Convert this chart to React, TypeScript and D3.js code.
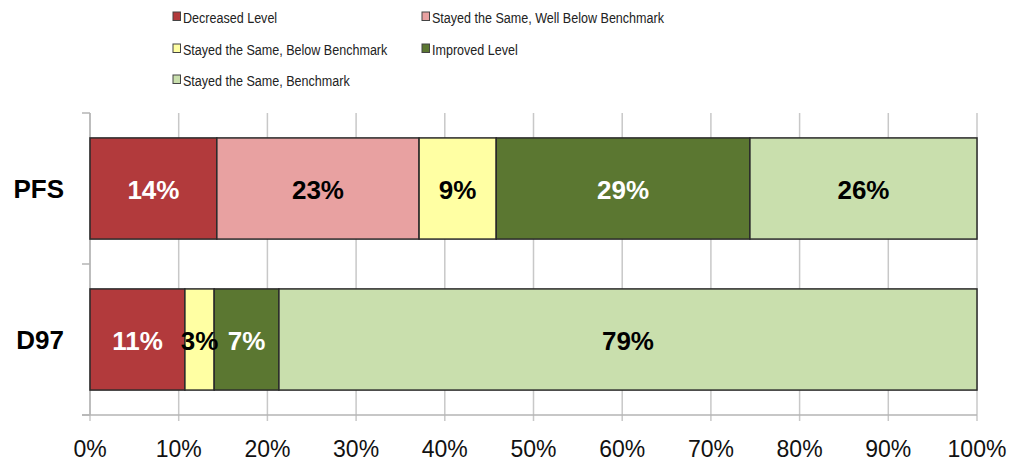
import React from "react";
import * as d3 from "d3";

const categories = ["PFS", "D97"];
const seriesNames = [
  "Decreased Level",
  "Stayed the Same, Well Below Benchmark",
  "Stayed the Same, Below Benchmark",
  "Improved Level",
  "Stayed the Same, Benchmark",
];
const seriesColors = ["#B23A3C", "#E8A1A1", "#FFFFA3", "#5B7731", "#C9DFAD"];
const labelColors = ["#fff", "#000", "#000", "#fff", "#000"];
const pfsValues = [14.3, 22.8, 8.7, 28.6, 25.6];
const d97Values = [10.7, 0, 3.3, 7.3, 78.7];
const labelsPFS = ["14%", "23%", "9%", "29%", "26%"];
const labelsD97 = ["11%", "", "3%", "7%", "79%"];
const ticks = [0, 10, 20, 30, 40, 50, 60, 70, 80, 90, 100];

const W = 1011, H = 463;
const left = 90, right = 977, top = 113, bottom = 415;

export default function App() {
  const x = d3.scaleLinear().domain([0, 100]).range([left, right]);
  const y = d3.scaleBand().domain(categories).range([top, bottom]).paddingInner(0.33).paddingOuter(0.165);
  const values = [pfsValues, d97Values];
  const labels = [labelsPFS, labelsD97];
  const stacks = values.map((vals) => {
    let acc = 0;
    return vals.map((v) => {
      const s = acc;
      acc += v;
      return [s, acc];
    });
  });
  const legendPos = [
    [173, 23], [422, 23], [173, 55], [422, 55], [173, 86],
  ];
  const font = "'Liberation Sans', Arial, Helvetica, sans-serif";
  return (
    <svg width={W} height={H} style={{ position: "absolute", left: 0, top: 0, background: "#fff" }}>
      {/* legend */}
      {seriesNames.map((n, i) => (
        <g key={n} transform={`translate(${legendPos[i][0]},${legendPos[i][1]})`}>
          <rect x={0} y={-11} width={7.5} height={8.5} fill={seriesColors[i]} stroke="#444" strokeWidth={1} />
          <g transform="translate(10,0) scale(0.81,1)">
            <text x={0} y={0} fontFamily={font} fontSize={15.5} fill="#222">
              {n}
            </text>
          </g>
        </g>
      ))}
      {/* gridlines */}
      {ticks.map((t) => (
        <line key={t} x1={x(t)} x2={x(t)} y1={top} y2={bottom + 6} stroke="#c8c8c8" strokeWidth={1.5} />
      ))}
      {/* axes */}
      <line x1={left - 8} x2={right} y1={bottom} y2={bottom} stroke="#b5b5b5" strokeWidth={1.5} />
      <line x1={left} x2={left} y1={top} y2={bottom} stroke="#b5b5b5" strokeWidth={1.5} />
      {[top, (top + bottom) / 2, bottom].map((yy, i) => (
        <line key={i} x1={left - 8} x2={left} y1={yy} y2={yy} stroke="#b5b5b5" strokeWidth={1.5} />
      ))}
      {ticks.map((t) => (
        <text key={t} x={x(t)} y={457} textAnchor="middle" fontFamily={font} fontSize={23} fill="#111">
          {t}%
        </text>
      ))}
      {/* bars */}
      {categories.map((c, ci) => (
        <g key={c}>
          <text x={64} y={(y(c) as number) + y.bandwidth() / 2 + 9.5} textAnchor="end" fontFamily={font} fontWeight="bold" fontSize={26} fill="#000">
            {c}
          </text>
          {stacks[ci].map(([s, e], si) =>
            e - s > 0 ? (
              <rect key={si} x={x(s)} y={y(c)} width={x(e) - x(s)} height={y.bandwidth()} fill={seriesColors[si]} stroke="#2a2a2a" strokeWidth={1.5} />
            ) : null
          )}
          {stacks[ci].map(([s, e], si) =>
            labels[ci][si] ? (
              <text key={"l" + si} x={(x(s) + x(e)) / 2} y={(y(c) as number) + y.bandwidth() / 2 + 10} textAnchor="middle" fontFamily={font} fontWeight="bold" fontSize={26} fill={labelColors[si]}>
                {labels[ci][si]}
              </text>
            ) : null
          )}
        </g>
      ))}
    </svg>
  );
}
